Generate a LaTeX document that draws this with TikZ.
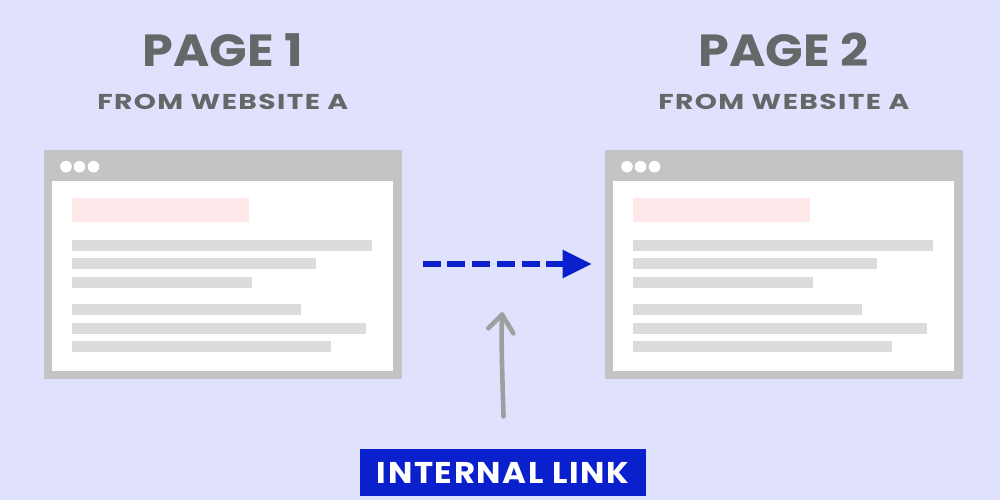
\documentclass[tikz,border=0pt]{standalone}
\usepackage{fontspec}
\newfontfamily\pop{Poppins}
\newfontfamily\popsp{Poppins}[LetterSpace=5]
\usetikzlibrary{arrows.meta}
\definecolor{bg}{HTML}{E0E2FD}
\definecolor{framegray}{HTML}{C4C4C4}
\definecolor{barg}{HTML}{DCDCDC}
\definecolor{pinkbar}{HTML}{FFE8EA}
\definecolor{txtg}{HTML}{636868}
\definecolor{linkblue}{HTML}{0A20CC}
\definecolor{arrowg}{HTML}{9CA0A0}
\tikzset{
  browser/.pic={
    \fill[framegray] (0,0) rectangle (358,229);
    \fill[white] (8,31) rectangle (349,221);
    \foreach \cx in {22,35.5,49.5} \fill[white] (\cx,16.7) circle[radius=5.8];
    \fill[pinkbar] (28,48) rectangle (205,72);
    \fill[barg] (28,90) rectangle (328,101);
    \fill[barg] (28,108.3) rectangle (272,119.3);
    \fill[barg] (28,126.7) rectangle (207.7,137.7);
    \fill[barg] (28,154.3) rectangle (257,165.3);
    \fill[barg] (28,172.7) rectangle (322,183.7);
    \fill[barg] (28,191) rectangle (286.7,202);
  },
  title/.style={font=\pop\bfseries\fontsize{45}{45}\selectfont, text=txtg, inner sep=0pt, anchor=base},
  subtitle/.style={font=\popsp\bfseries\fontsize{21.5}{21.5}\selectfont, text=txtg, inner sep=0pt, anchor=base},
  linkbox/.style={fill=linkblue, text=white, font=\popsp\bfseries\fontsize{30}{30}\selectfont,
    minimum width=286, minimum height=47, inner sep=0pt, text height=21pt, text depth=0pt},
  linkarrow/.style={draw=linkblue, line width=5.3, dash pattern=on 18pt off 6.7pt,
    -{Triangle[length=29pt,width=27pt]}},
  handarrow/.style={draw=arrowg, line width=4.6, line cap=round, line join=round}
}
\begin{document}
\begin{tikzpicture}[x=1pt,y=-1pt]
\fill[bg] (0,0) rectangle (1000,500);
\useasboundingbox (0,0) rectangle (1000,500);
\pic at (44,150) {browser};
\pic at (605,150) {browser};
\node[title] (t1) at (222.8,66.7) {\scalebox{1.095}[1]{PAGE 1}};
\node[subtitle] (s1) at (222.8,110) {\scalebox{1.31}[1]{FROM WEBSITE A}};
\node[title] (t2) at (783.8,66.7) {\scalebox{1.095}[1]{PAGE 2}};
\node[subtitle] (s2) at (783.8,110) {\scalebox{1.31}[1]{FROM WEBSITE A}};
\coordinate (d1) at (422.7,264);
\coordinate (d2) at (591.7,264);
\draw[linkarrow] (d1) -- (d2);
\coordinate (g1) at (503.5,416.5);
\coordinate (g2) at (502,314.5);
\coordinate (gl) at (488.3,328.3);
\coordinate (gr) at (513.3,333.3);
\draw[handarrow] (g1) .. controls (502.5,380) and (501,345) .. (g2);
\draw[handarrow] (gl) -- (g2) -- (gr);
\node[linkbox] (link) at (503,472.5) {\scalebox{1.08}[1]{INTERNAL LINK}};
\end{tikzpicture}
\end{document}
